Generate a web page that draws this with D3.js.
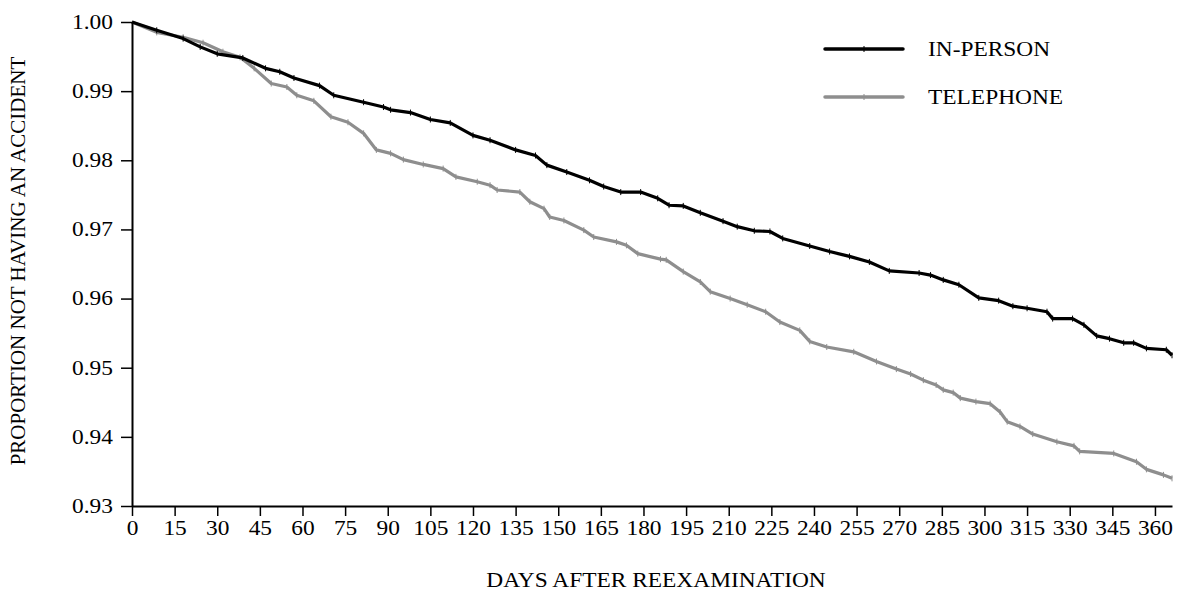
<!DOCTYPE html>
<html>
<head>
<meta charset="utf-8">
<script src="https://cdn.jsdelivr.net/npm/d3@7"></script>
<style>
  body { margin: 0; background: #fff; }
  text { font-family: "Liberation Serif", "Times New Roman", serif; fill: #000; }
</style>
</head>
<body>
<div id="chart"></div>
<script>
// chart size, same as the window
const width = 1182;
const height = 595;
const margin = {left: 132, right: 10, top: 22, bottom: 89};
const stretch = 1.17; // text in the picture is a little wide

// data
const inPersonDays = [0, 8.7, 18, 24, 30, 39, 47, 52, 57, 66, 71, 81.5, 88.5, 91, 98, 105, 112, 120, 126, 135,
  142, 146, 153, 161, 166, 172, 179, 185, 189, 194, 200, 208, 213, 219, 224.5, 229, 238.5, 245.5, 252.5, 259.5,
  266.5, 277, 281, 285.5, 291, 298, 305, 310, 315, 322, 324, 331, 335, 339.5, 344, 349, 352.5, 357, 364, 366];
const inPersonValues = [1.0, .9988, .9976, .9964, .9954, .9948, .9933, .9928, .9919, .9908, .9894, .9884, .9877,
  .9873, .9869, .9859, .9854, .9836, .9829, .9815, .9807, .9793, .9783, .9771, .9762, .9754, .9754, .9745, .9735,
  .9734, .9724, .9712, .9704, .9698, .9697, .9687, .9676, .9668, .9661, .9653, .9640, .9637, .9634, .9627, .9620,
  .9601, .9597, .9589, .9586, .9581, .9571, .9571, .9562, .9546, .9542, .9536, .9536, .9528, .9526, .9518];

const telephoneDays = [0, 8.7, 18, 25, 32, 38, 43, 49, 54.5, 58, 64, 70, 76, 81.5, 86, 91, 95.5, 102.5, 109.5, 114,
  121.5, 126, 128.5, 136.5, 140, 145, 147, 152, 159, 162.5, 170.5, 174, 178, 186, 188, 194, 200, 203.5, 210.5,
  216.5, 223, 228, 235, 238.5, 244.5, 254, 262, 269, 274, 278.5, 283, 285.5, 289, 291.5, 297, 302, 305.5, 308,
  312.5, 317, 325.5, 331.5, 333.5, 345.5, 353.5, 357, 363, 366];
const telephoneValues = [1.0, .9985, .9978, .9970, .9957, .9949, .9933, .9911, .9906, .9894, .9886, .9863, .9855,
  .9839, .9815, .9810, .9801, .9794, .9788, .9776, .9769, .9764, .9757, .9754, .9740, .9730, .9718, .9713, .9699,
  .9689, .9682, .9677, .9665, .9657, .9656, .9639, .9624, .9610, .9600, .9591, .9581, .9566, .9554, .9538, .9530,
  .9523, .9509, .9498, .9491, .9482, .9475, .9468, .9464, .9456, .9451, .9448, .9436, .9422, .9415, .9404, .9393,
  .9387, .9379, .9376, .9364, .9353, .9345, .9340];

const seriesNames = ["IN-PERSON", "TELEPHONE"];
const seriesColors = ["#000000", "#8e8e8e"];
const xTicks = d3.range(0, 361, 15);
const yTicks = [0.93, 0.94, 0.95, 0.96, 0.97, 0.98, 0.99, 1.00];

const svg = d3.select("#chart")
  .append("svg")
  .attr("width", width)
  .attr("height", height);

svg.append("rect").attr("width", width).attr("height", height).attr("fill", "#fff");

// scales
const x = d3.scaleLinear().domain([0, 366]).range([margin.left, width - margin.right]);
const y = d3.scaleLinear().domain([0.93, 1.00]).range([height - margin.bottom, margin.top]);

// curves
const series = [
  {name: seriesNames[0], color: seriesColors[0], pts: inPersonDays.map((d, i) => [d, inPersonValues[i]])},
  {name: seriesNames[1], color: seriesColors[1], pts: telephoneDays.map((d, i) => [d, telephoneValues[i]])}
];

const line = d3.line().x(d => x(d[0])).y(d => y(d[1]));

// draw gray first so black sits on top
series.slice().reverse().forEach(s => {
  svg.append("path")
    .datum(s.pts)
    .attr("fill", "none")
    .attr("stroke", s.color)
    .attr("stroke-width", 3.2)
    .attr("stroke-linejoin", "round")
    .attr("d", line);

  // little censor marks
  svg.append("g").selectAll("line")
    .data(s.pts.slice(1))
    .join("line")
      .attr("x1", d => x(d[0])).attr("x2", d => x(d[0]))
      .attr("y1", d => y(d[1]) - 3).attr("y2", d => y(d[1]) + 3)
      .attr("stroke", s.color)
      .attr("stroke-width", 1);
});

// axes
const xAxis = svg.append("g")
  .attr("transform", `translate(0,${height - margin.bottom})`)
  .call(d3.axisBottom(x).tickValues(xTicks).tickSize(10).tickSizeOuter(0).tickPadding(5));
xAxis.selectAll("text")
  .attr("font-size", "20px")
  .attr("transform", `scale(${stretch},1)`);

const yAxis = svg.append("g")
  .attr("transform", `translate(${margin.left},0)`)
  .call(d3.axisLeft(y).tickValues(yTicks).tickFormat(d3.format(".2f")).tickSize(11).tickSizeOuter(0));
yAxis.selectAll("text")
  .attr("font-size", "20px")
  .attr("x", -19 / stretch)
  .attr("transform", `scale(${stretch},1)`);

svg.selectAll(".domain").attr("stroke", "#000").attr("stroke-width", 2);
svg.selectAll(".tick line").attr("stroke", "#000").attr("stroke-width", 1.5);
svg.selectAll(".tick text").attr("fill", "#000").attr("font-family", "Liberation Serif, Times New Roman, serif");

// axis titles
svg.append("text")
  .attr("transform", `translate(${(x(0) + x(366)) / 2 + 4},587) scale(${stretch},1)`)
  .attr("text-anchor", "middle")
  .attr("font-size", "20px")
  .text("DAYS AFTER REEXAMINATION");

svg.append("text")
  .attr("transform", `translate(25,261) rotate(-90)`)
  .attr("text-anchor", "middle")
  .attr("font-size", "21px")
  .text("PROPORTION NOT HAVING AN ACCIDENT");

// legend
const legend = svg.append("g");
const legendY = [49, 97];
series.forEach((s, i) => {
  legend.append("line")
    .attr("x1", 825).attr("x2", 903)
    .attr("y1", legendY[i]).attr("y2", legendY[i])
    .attr("stroke", s.color)
    .attr("stroke-width", 3.5)
    .attr("stroke-linecap", "round");
  legend.append("line")
    .attr("x1", 864).attr("x2", 864)
    .attr("y1", legendY[i] - 3).attr("y2", legendY[i] + 3)
    .attr("stroke", s.color)
    .attr("stroke-width", 1);
  legend.append("text")
    .attr("transform", `translate(928,${legendY[i] + 7}) scale(${stretch},1)`)
    .attr("font-size", "20px")
    .text(s.name);
});
</script>
</body>
</html>
